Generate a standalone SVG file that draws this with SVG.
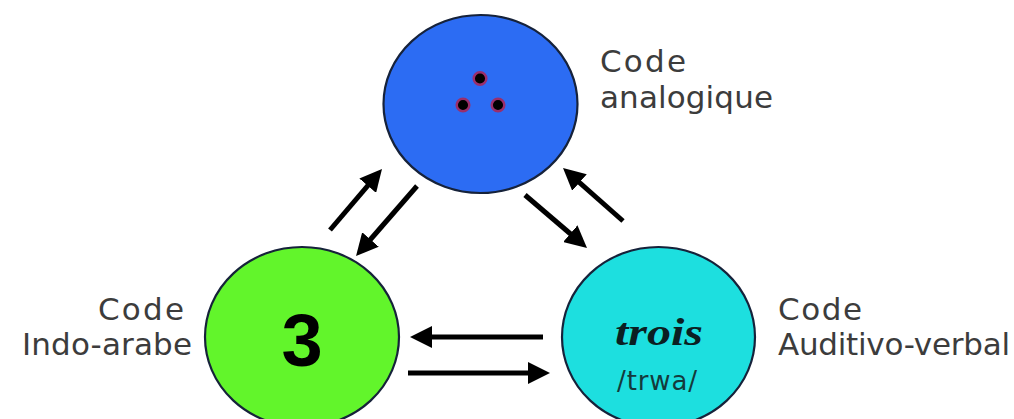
<svg xmlns="http://www.w3.org/2000/svg" width="1014" height="419" viewBox="0 0 1014 419">
  <style>
    .node { stroke: #16223a; stroke-width: 2.2; }
    .lbl { font-family: "DejaVu Sans", "Liberation Sans", sans-serif; font-size: 31px; fill: #3c3c3c; }
    .conn { stroke: #000; stroke-width: 5; fill: none; marker-end: url(#ah); }
    .dot { fill: #000; stroke: #9a2f6c; stroke-width: 2.5; }
  </style>
  <defs>
    <marker id="ah" viewBox="0 0 22 22" refX="12" refY="11" markerWidth="22" markerHeight="22" markerUnits="userSpaceOnUse" orient="auto">
      <path d="M0,0 L22,11 L0,22 z" fill="#000"/>
    </marker>
  </defs>
  <rect width="1014" height="419" fill="#ffffff"/>

  <g id="connectors">
    <line class="conn" x1="330" y1="230" x2="375.5" y2="176.6"/>
    <line class="conn" x1="417" y1="186" x2="362.6" y2="248.5"/>
    <line class="conn" x1="525" y1="195" x2="579.4" y2="241.5"/>
    <line class="conn" x1="623" y1="221" x2="570.5" y2="174.6"/>
    <line class="conn" x1="543" y1="337" x2="420" y2="337"/>
    <line class="conn" x1="408" y1="373" x2="540" y2="373"/>
  </g>

  <g id="node-analogique">
    <ellipse class="node" cx="480.5" cy="104" rx="97" ry="89" fill="#2c6cf3"/>
    <circle class="dot" cx="480" cy="78.5" r="6.3"/>
    <circle class="dot" cx="463" cy="105" r="6.3"/>
    <circle class="dot" cx="498" cy="105" r="6.3"/>
    <text class="lbl" x="600" y="72" textLength="86" lengthAdjust="spacing">Code</text>
    <text class="lbl" x="600" y="108" textLength="173" lengthAdjust="spacing">analogique</text>
  </g>

  <g id="node-indo-arabe">
    <ellipse class="node" cx="302" cy="337" rx="97" ry="90" fill="#62f52b"/>
    <text x="302" y="366" text-anchor="middle" font-family="Liberation Sans, Arial, sans-serif" font-weight="bold" font-size="74" fill="#000">3</text>
    <text class="lbl" x="184" y="320" text-anchor="end" textLength="86" lengthAdjust="spacing">Code</text>
    <text class="lbl" x="192" y="355" text-anchor="end" textLength="170" lengthAdjust="spacing">Indo-arabe</text>
  </g>

  <g id="node-auditivo-verbal">
    <ellipse class="node" cx="658.5" cy="337" rx="96.5" ry="90" fill="#1ddfdf"/>
    <text x="659" y="345" text-anchor="middle" font-family="Liberation Serif, serif" font-style="italic" font-weight="bold" font-size="38" fill="#0b1f22" textLength="88" lengthAdjust="spacingAndGlyphs">trois</text>
    <text x="657" y="390" text-anchor="middle" font-family="DejaVu Sans, sans-serif" font-size="26" fill="#143a3c" textLength="80" lengthAdjust="spacing">/trwa/</text>
    <text class="lbl" x="778" y="320" textLength="84" lengthAdjust="spacing">Code</text>
    <text class="lbl" x="778" y="355" textLength="232" lengthAdjust="spacing">Auditivo-verbal</text>
  </g>
</svg>
